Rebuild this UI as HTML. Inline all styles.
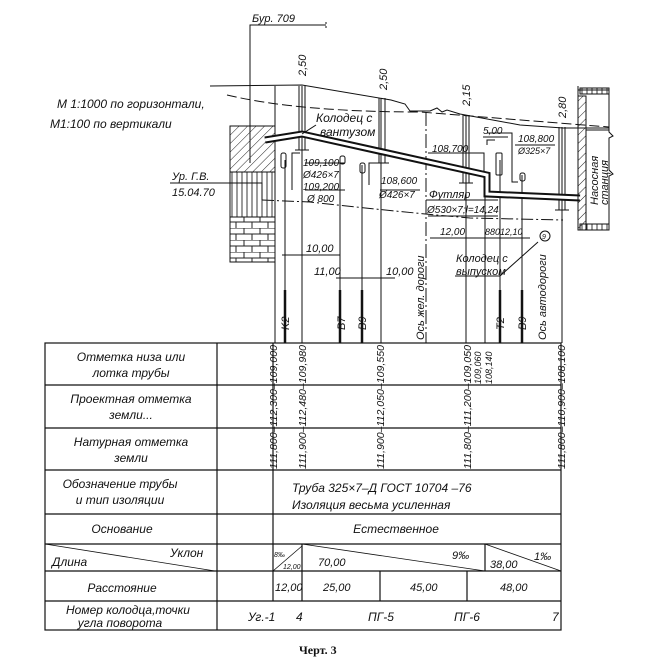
<!DOCTYPE html>
<html><head><meta charset="utf-8"><style>
html,body{margin:0;padding:0;background:#fff;}
svg{display:block;}
text{font-family:"Liberation Sans","DejaVu Sans",sans-serif;font-style:italic;fill:#111;}
</style></head><body>
<svg width="658" height="662" viewBox="0 0 658 662" xmlns="http://www.w3.org/2000/svg">
<defs>
<pattern id="diag" width="6" height="6" patternUnits="userSpaceOnUse" patternTransform="rotate(45)">
<line x1="0" y1="0" x2="0" y2="6" stroke="#222" stroke-width="1"/></pattern>
<pattern id="vert" width="5" height="10" patternUnits="userSpaceOnUse">
<line x1="2" y1="0" x2="2" y2="10" stroke="#222" stroke-width="0.9"/></pattern>
<pattern id="brick" width="16" height="12" patternUnits="userSpaceOnUse">
<line x1="0" y1="0" x2="16" y2="0" stroke="#222"/><line x1="0" y1="6" x2="16" y2="6" stroke="#222"/>
<line x1="4" y1="0" x2="4" y2="6" stroke="#222"/><line x1="12" y1="6" x2="12" y2="12" stroke="#222"/></pattern>
</defs>
<g stroke="#111" fill="none" stroke-width="1">
<polyline points="250,163 250,25 326,25"/>
<line x1="326" y1="22" x2="326" y2="28" stroke-dasharray="2,2"/>
<polyline points="210,86 302,85 391,100 405,104 410,111 430,111 437,108 442,112 447,110 460,114 520,125 563,128 609,128"/>
<path d="M227,95 Q300,112 420,112 L609,127" stroke-dasharray="10,4"/>
<path d="M262,200 L310,202 Q400,212 470,218 L563,220" stroke-dasharray="12,3,2,3"/>
<rect x="230" y="126" width="45" height="46" fill="url(#diag)"/>
<rect x="230" y="172" width="45" height="45" fill="url(#vert)"/>
<rect x="230" y="217" width="45" height="45" fill="url(#brick)"/>
<line x1="230" y1="126" x2="230" y2="262"/>
<polyline points="170,183 262,183 262,200"/>
<line x1="275" y1="86" x2="275" y2="343"/>
<line x1="285" y1="160" x2="285" y2="343"/>
<line x1="285" y1="290" x2="285" y2="343" stroke-width="2.5"/>
<line x1="302" y1="86" x2="302" y2="343"/>
<line x1="340" y1="160" x2="340" y2="343"/>
<line x1="340" y1="290" x2="340" y2="343" stroke-width="2.5"/>
<line x1="362" y1="165" x2="362" y2="343"/>
<line x1="362" y1="290" x2="362" y2="343" stroke-width="2.5"/>
<line x1="381" y1="98" x2="381" y2="343"/>
<line x1="426" y1="112" x2="426" y2="343" stroke-dasharray="14,3,2,3"/>
<line x1="466" y1="115" x2="466" y2="343"/>
<line x1="485" y1="175" x2="485" y2="343"/>
<line x1="500" y1="160" x2="500" y2="343"/>
<line x1="500" y1="290" x2="500" y2="343" stroke-width="2.5"/>
<line x1="522" y1="175" x2="522" y2="343"/>
<line x1="522" y1="290" x2="522" y2="343" stroke-width="2.5"/>
<line x1="562" y1="127" x2="562" y2="343"/>
<line x1="299" y1="86" x2="299" y2="150"/><line x1="305" y1="86" x2="305" y2="150"/><line x1="295" y1="150" x2="309" y2="150"/>
<line x1="379" y1="98" x2="379" y2="163"/><line x1="385" y1="98" x2="385" y2="163"/><line x1="375" y1="163" x2="389" y2="163"/>
<line x1="463" y1="115" x2="463" y2="183"/><line x1="469" y1="115" x2="469" y2="183"/><line x1="459" y1="183" x2="473" y2="183"/>
<line x1="559" y1="127" x2="559" y2="210"/><line x1="565" y1="127" x2="565" y2="210"/><line x1="555" y1="210" x2="569" y2="210"/>
<rect x="281" y="153" width="5" height="15" rx="2"/><rect x="340" y="156" width="5" height="8" rx="2"/>
<rect x="360" y="163" width="5" height="10" rx="2"/><rect x="496" y="153" width="6" height="22" rx="1"/><rect x="520" y="173" width="5" height="8" rx="2"/>
<polyline points="292,190 292,153 300,153"/><polyline points="369,185 369,163 375,163"/>
<polyline points="487,145 487,140 495,140"/><polyline points="487,133 512,133 512,182 518,182"/>
<polyline points="428,153 484,153 484,180"/>
<polyline points="265,140 302,134 487,175 487,194 580,198" stroke-width="7" stroke-linejoin="miter"/>
<polyline points="265,140 302,134 487,175 487,194 580,198" stroke="#fff" stroke-width="3" stroke-linejoin="miter"/>
<rect x="578" y="96" width="8" height="134" fill="url(#diag)"/>
<polyline points="578,86 578,230 609,230"/><polyline points="578,90 609,90"/><rect x="580" y="88" width="29" height="6" fill="url(#vert)"/>
<rect x="580" y="224" width="29" height="6" fill="url(#vert)"/>
<line x1="586" y1="96" x2="586" y2="224"/><line x1="586" y1="130" x2="609" y2="130"/>
<polyline points="609,90 609,132 613,136 609,138 609,170 613,174 609,176 609,230"/>
<line x1="282" y1="255" x2="340" y2="255"/><line x1="336" y1="278" x2="395" y2="278"/>
<line x1="430" y1="238" x2="530" y2="238"/>
<line x1="305" y1="163" x2="345" y2="163"/><line x1="305" y1="190" x2="345" y2="190"/>
<line x1="380" y1="190" x2="420" y2="190"/><line x1="426" y1="200" x2="498" y2="200"/>
<line x1="428" y1="216" x2="498" y2="216"/><line x1="515" y1="145" x2="555" y2="145"/>
<line x1="483" y1="137" x2="508" y2="137"/>
<polyline points="455,276 500,276 538,242"/>
<line x1="316" y1="125" x2="302" y2="134"/>
</g>
<circle cx="545" cy="236" r="5" fill="none" stroke="#111"/><text x="542" y="239" font-size="7">9</text>
<g font-size="11">
<text x="252" y="22">Бур. 709</text>
<text x="57" y="108" font-size="12">М 1:1000 по горизонтали,</text>
<text x="50" y="128" font-size="12">М1:100  по вертикали</text>
<text x="316" y="122" font-size="12">Колодец с</text>
<text x="320" y="136" font-size="12">вантузом</text>
<text x="172" y="180">Ур. Г.В.</text>
<text x="172" y="196">15.04.70</text>
<text x="303" y="166" font-size="10">109,100</text>
<text x="303" y="178" font-size="10">Ø426×7</text>
<text x="303" y="190" font-size="10">109,200</text>
<text x="307" y="202" font-size="10">Ø 800</text>
<text x="381" y="184" font-size="10">108,600</text>
<text x="379" y="198" font-size="10">Ø426×7</text>
<text x="429" y="198">Футляр</text>
<text x="427" y="213" font-size="10">Ø530×7;l=14,24</text>
<text x="432" y="152" font-size="10">108,700</text>
<text x="483" y="134" font-size="10">5,00</text>
<text x="518" y="142" font-size="10">108,800</text>
<text x="518" y="154" font-size="9">Ø325×7</text>
<text x="440" y="235" font-size="10">12,00</text>
<text x="485" y="235" font-size="9">880</text>
<text x="500" y="235" font-size="9">12,10</text>
<text x="456" y="262">Колодец с</text>
<text x="456" y="275">выпуском</text>
<text x="306" y="252">10,00</text>
<text x="314" y="275">11,00</text>
<text x="386" y="275">10,00</text>
<text transform="translate(306,76) rotate(-90)">2,50</text>
<text transform="translate(387,90) rotate(-90)">2,50</text>
<text transform="translate(470,106) rotate(-90)">2,15</text>
<text transform="translate(566,118) rotate(-90)">2,80</text>
<text transform="translate(289,330) rotate(-90)">K2</text>
<text transform="translate(345,330) rotate(-90)">B7</text>
<text transform="translate(366,330) rotate(-90)">B9</text>
<text transform="translate(504,330) rotate(-90)">T2</text>
<text transform="translate(526,330) rotate(-90)">B9</text>
<text transform="translate(424,340) rotate(-90)">Ось жел. дороги</text>
<text transform="translate(546,340) rotate(-90)">Ось автодороги</text>
<text transform="translate(598,205) rotate(-90)">Насосная</text>
<text transform="translate(608,205) rotate(-90)">станция</text>
</g>
<g stroke="#111" fill="none" stroke-width="1.2">
<rect x="45" y="343" width="516" height="287"/>
<line x1="217" y1="343" x2="217" y2="630"/>
<line x1="45" y1="385" x2="561" y2="385"/><line x1="45" y1="428" x2="561" y2="428"/>
<line x1="45" y1="470" x2="561" y2="470"/><line x1="45" y1="514" x2="561" y2="514"/>
<line x1="45" y1="544" x2="561" y2="544"/><line x1="45" y1="571" x2="561" y2="571"/>
<line x1="45" y1="601" x2="561" y2="601"/>
<line x1="273" y1="343" x2="273" y2="601"/>
<line x1="302" y1="544" x2="302" y2="601"/>
<line x1="380" y1="571" x2="380" y2="601"/><line x1="467" y1="571" x2="467" y2="601"/>
<line x1="485" y1="544" x2="485" y2="571"/>
<line x1="45" y1="544" x2="215" y2="571" stroke-width="0.8"/>
<line x1="302" y1="544" x2="485" y2="571" stroke-width="0.8"/>
<line x1="485" y1="544" x2="561" y2="571" stroke-width="0.8"/>
<line x1="273" y1="571" x2="302" y2="546" stroke-width="0.8"/>
</g>
<g font-size="12" text-anchor="middle">
<text x="131" y="361">Отметка низа или</text><text x="131" y="377">лотка трубы</text>
<text x="131" y="403">Проектная отметка</text><text x="131" y="419">земли...</text>
<text x="131" y="446">Натурная отметка</text><text x="131" y="462">земли</text>
<text x="120" y="488">Обозначение трубы</text><text x="120" y="504">и тип изоляции</text>
<text x="122" y="533">Основание</text>
<text x="396" y="533">Естественное</text>
<text x="122" y="592">Расстояние</text>
<text x="128" y="614">Номер колодца,точки</text><text x="120" y="627">угла поворота</text>
</g>
<g font-size="12">
<text x="292" y="492">Труба 325×7–Д  ГОСТ 10704 –76</text>
<text x="292" y="509">Изоляция весьма усиленная</text>
<text x="52" y="566">Длина</text><text x="170" y="557">Уклон</text>
<text x="318" y="566" font-size="11">70,00</text><text x="452" y="559" font-size="11">9‰</text>
<text x="490" y="568" font-size="11">38,00</text><text x="534" y="560" font-size="11">1‰</text>
<text x="274" y="557" font-size="7">8‰</text><text x="283" y="569" font-size="7">12,00</text>
<text x="275" y="591" font-size="11">12,00</text><text x="323" y="591" font-size="11">25,00</text>
<text x="410" y="591" font-size="11">45,00</text><text x="500" y="591" font-size="11">48,00</text>
<text x="248" y="621">Уг.-1</text><text x="296" y="621">4</text>
<text x="368" y="621">ПГ-5</text><text x="454" y="621">ПГ-6</text><text x="552" y="621">7</text>
</g>
<g font-size="10" textLength="124">
<text transform="translate(277,469) rotate(-90)" textLength="124" lengthAdjust="spacingAndGlyphs">111,800–112,300–109,000</text>
<text transform="translate(306,469) rotate(-90)" textLength="124" lengthAdjust="spacingAndGlyphs">111,900–112,480–109,980</text>
<text transform="translate(384,469) rotate(-90)" textLength="124" lengthAdjust="spacingAndGlyphs">111,900–112,050–109,550</text>
<text transform="translate(471,469) rotate(-90)" textLength="124" lengthAdjust="spacingAndGlyphs">111,800–111,200–109,050</text>
<text transform="translate(481,384) rotate(-90)" font-size="9">109,060</text>
<text transform="translate(492,384) rotate(-90)" font-size="9">108,140</text>
<text transform="translate(565,469) rotate(-90)" textLength="124" lengthAdjust="spacingAndGlyphs">111,800–110,900–108,100</text>
</g>
<text x="299" y="654" font-size="12" style="font-style:normal;font-weight:bold;font-family:'Liberation Serif',serif">Черт. 3</text>
</svg>
</body></html>
